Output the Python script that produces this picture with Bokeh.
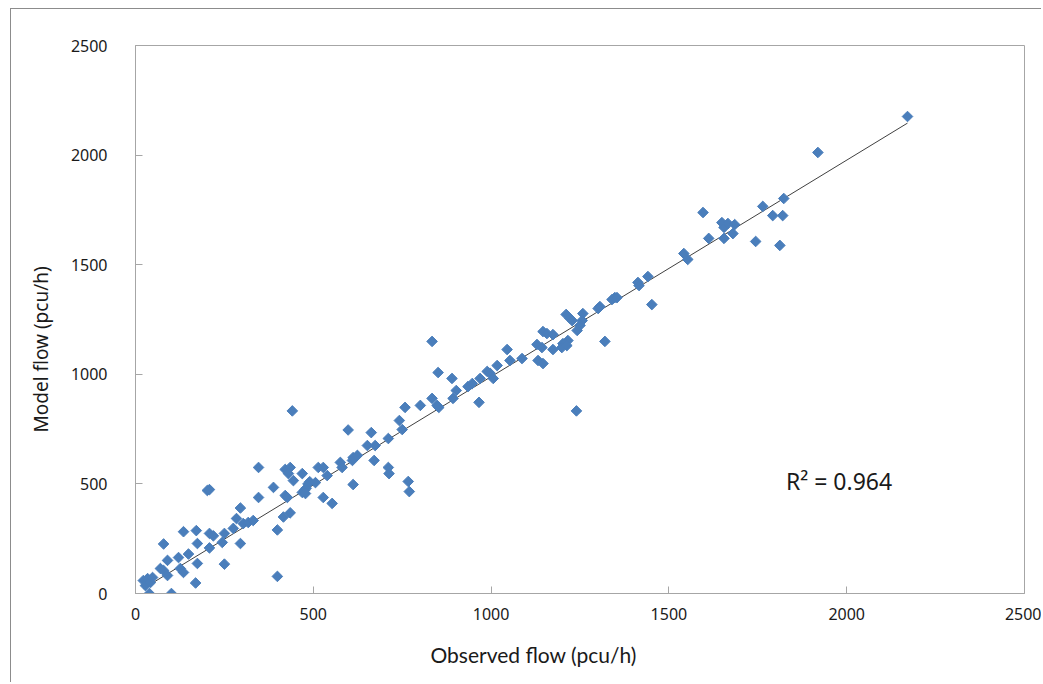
import numpy as np
from bokeh.plotting import figure
from bokeh.models import Label, Range1d, FixedTicker, Title
from bokeh.embed import file_html
from bokeh.resources import INLINE

observed = [39, 101, 22, 28, 34, 42, 48, 70, 79, 90,
            126, 135, 90, 121, 149, 79, 174, 169, 174, 135,
            171, 208, 208, 219, 250, 250, 244, 275, 284, 295,
            295, 303, 317, 331, 202, 208, 346, 346, 388, 399,
            399, 416, 435, 421, 427, 421, 435, 430, 441, 444,
            469, 469, 475, 480, 485, 490, 478, 506, 514, 528,
            528, 539, 553, 576, 581, 598, 610, 612, 624, 612,
            652, 663, 671, 674, 711, 711, 713, 742, 750, 758,
            767, 770, 801, 834, 834, 848, 853, 851, 890, 893,
            902, 935, 947, 966, 969, 989, 997, 1006, 1017, 1045,
            1053, 1087, 1129, 1132, 1143, 1146,
            1146, 1157, 1174, 1174, 1216, 1202, 1199, 1213, 1211, 1222,
            1228, 1258, 1256, 1250, 1242, 1240, 1320, 1306, 1301, 1340,
            1348, 1354, 1413, 1416, 1441, 1452,
            1542, 1553, 1596, 1612, 1649, 1655, 1655, 1666, 1680, 1685,
            1744, 1764, 1792, 1812, 1820, 1823, 1919, 2171]
model = [0, 0, 59, 36, 68, 50, 73, 114, 105, 82,
         114, 96, 151, 164, 180, 226, 137, 48, 228, 282,
         287, 208, 274, 263, 274, 134, 233, 297, 342, 390,
         228, 319, 324, 333, 470, 474, 575, 438, 484, 290,
         78, 349, 368, 447, 438, 566, 575, 547, 833, 515,
         547, 461, 470, 480, 500, 510, 456, 506, 575, 575,
         438, 538, 411, 598, 575, 746, 607, 620, 630, 497,
         675, 734, 607, 675, 707, 575, 547, 789, 748, 849,
         511, 465, 858, 890, 1150, 858, 849, 1008, 981, 890,
         926, 944, 958, 872, 981, 1013, 1005, 981, 1040, 1113,
         1063, 1072, 1136, 1063, 1122, 1049,
         1195, 1186, 1181, 1113, 1154, 1140, 1122, 1131, 1273, 1255,
         1245, 1277, 1245, 1223, 1200, 833, 1150, 1309, 1300, 1341,
         1350, 1350, 1419, 1405, 1446, 1318,
         1551, 1524, 1738, 1620, 1692, 1670, 1620, 1688, 1642, 1683,
         1606, 1766, 1724, 1588, 1724, 1802, 2012, 2176]
# linear trend line as drawn in the chart (y = slope * x + intercept)
trend_slope = 0.988
trend_intercept = 1.0
ticks = [0, 500, 1000, 1500, 2000, 2500]
r2_text = "R² = 0.964"
x_title = "Observed flow (pcu/h)"
y_title = "Model flow (pcu/h)"

W, H = 1031, 674
p = figure(width=W, height=H, output_backend="svg", toolbar_location=None,
           x_range=Range1d(0, 2500), y_range=Range1d(0, 2500),
           min_border_left=124, min_border_top=36, min_border_right=18, min_border_bottom=90)
p.styles = {"margin-left": "10px", "margin-top": "8px",
            "border-left": "1px solid #8c8c8c", "border-top": "1px solid #8c8c8c"}
p.xgrid.visible = False
p.ygrid.visible = False
p.outline_line_color = "#a6a6a6"
p.outline_line_width = 1
p.background_fill_color = "white"
p.border_fill_color = "white"

for ax in (p.xaxis[0], p.yaxis[0]):
    ax.ticker = FixedTicker(ticks=ticks)
    ax.axis_line_color = "#a6a6a6"
    ax.major_tick_line_color = "#a6a6a6"
    ax.major_tick_in = 7
    ax.major_tick_out = 0
    ax.minor_tick_line_color = None
    ax.major_label_text_font = "Noto Sans"
    ax.major_label_text_font_size = "16px"
    ax.major_label_text_color = "#1a1a1a"
p.xaxis.major_label_standoff = 14
p.yaxis.major_label_standoff = 28

xl = np.array([min(observed), max(observed)])
p.line(xl, trend_slope * xl + trend_intercept, line_color="#404040", line_width=1)

p.scatter(observed, model, marker="square", angle=np.pi / 4, size=7.5,
          fill_color="#4a7ebb", line_color="#4a7ebb", line_width=1)

p.add_layout(Label(x=1829, y=515, text=r2_text, text_font="Noto Sans", text_font_size="23px",
                   text_color="#1a1a1a", text_baseline="middle", text_align="left"))
p.add_layout(Title(text=x_title, align="left", offset=295, standoff=34, text_font="Lato",
                   text_font_size="21px", text_font_style="normal", text_color="#1a1a1a"), "below")
p.add_layout(Title(text=y_title, align="left", offset=161, standoff=28, text_font="Noto Sans",
                   text_font_size="19px", text_font_style="normal", text_color="#1a1a1a"), "left")

open("out.html", "w").write(file_html(p, INLINE))
